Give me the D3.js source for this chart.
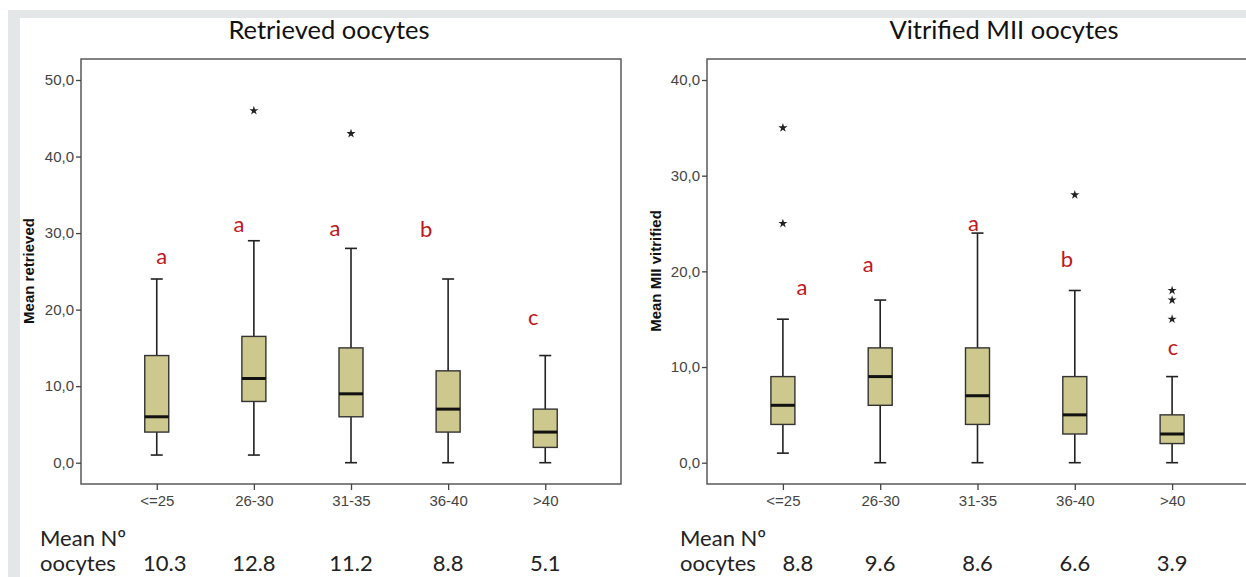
<!DOCTYPE html>
<html>
<head>
<meta charset="utf-8">
<script src="https://cdn.jsdelivr.net/npm/d3@7"></script>
<style>
  body { margin: 0; background: #fff; }
  svg { display: block; }
</style>
</head>
<body>
<div id="chart"></div>
<script>
// categories
let ageGroups = ["<=25", "26-30", "31-35", "36-40", ">40"];

// retrieved oocytes boxplot values
let retrievedLow = [1, 1, 0, 0, 0];
let retrievedQ1 = [4, 8, 6, 4, 2];
let retrievedMedian = [6, 11, 9, 7, 4];
let retrievedQ3 = [14, 16.5, 15, 12, 7];
let retrievedHigh = [24, 29, 28, 24, 14];
let retrievedOutliers = [[], [46], [43], [], []];
let retrievedLetters = ["a", "a", "a", "b", "c"];
let retrievedLetterAt = [26.8, 31, 30.5, 30.4, 18.9];
let retrievedMeans = ["10.3", "12.8", "11.2", "8.8", "5.1"];
let retrievedTicks = [0, 10, 20, 30, 40, 50];

// vitrified MII oocytes boxplot values
let vitrifiedLow = [1, 0, 0, 0, 0];
let vitrifiedQ1 = [4, 6, 4, 3, 2];
let vitrifiedMedian = [6, 9, 7, 5, 3];
let vitrifiedQ3 = [9, 12, 12, 9, 5];
let vitrifiedHigh = [15, 17, 24, 18, 9];
let vitrifiedOutliers = [[35, 25], [], [], [28], [18, 17, 15]];
let vitrifiedLetters = ["a", "a", "a", "b", "c"];
let vitrifiedLetterAt = [18.2, 20.6, 24.9, 21.1, 11.9];
let vitrifiedMeans = ["8.8", "9.6", "8.6", "6.6", "3.9"];
let vitrifiedTicks = [0, 10, 20, 30, 40];

let W = 1246, H = 577;

let svg = d3.select("#chart").append("svg")
    .attr("width", W)
    .attr("height", H);

// grey slide border
svg.append("rect").attr("x", 8).attr("y", 10).attr("width", W - 8).attr("height", 8).attr("fill", "#e4e7e8");
svg.append("rect").attr("x", 8).attr("y", 10).attr("width", 12).attr("height", H - 10).attr("fill", "#e4e7e8");

let fmt = v => d3.format(".1f")(v).replace(".", ",");

function drawPanel(p) {
    let x = d3.scalePoint()
        .domain(ageGroups)
        .range([p.left, p.right])
        .padding(0.78);
    let y = d3.scaleLinear()
        .domain([0, d3.max(p.ticks)])
        .range([462.7, 80]);

    let g = svg.append("g");
    let top = 59, bottom = 484;

    // frame
    g.append("rect")
        .attr("x", p.left).attr("y", top)
        .attr("width", p.right - p.left).attr("height", bottom - top)
        .attr("fill", "none").attr("stroke", "#5a5a5a").attr("stroke-width", 1.5);

    // y axis
    let yAxis = g.append("g")
        .attr("transform", "translate(" + p.left + ",0)")
        .call(d3.axisLeft(y).tickValues(p.ticks).tickFormat(fmt).tickSize(5).tickPadding(2));
    yAxis.select(".domain").remove();
    yAxis.selectAll("line").attr("stroke", "#444").attr("stroke-width", 1.3);
    yAxis.selectAll("text")
        .attr("fill", "#444")
        .style("font-family", "'Liberation Sans', Arial, sans-serif")
        .style("font-size", "15px");

    // x axis
    let xAxis = g.append("g")
        .attr("transform", "translate(0," + bottom + ")")
        .call(d3.axisBottom(x).tickSize(6).tickPadding(5));
    xAxis.select(".domain").remove();
    xAxis.selectAll("line").attr("stroke", "#444").attr("stroke-width", 1.3);
    xAxis.selectAll("text")
        .attr("fill", "#444")
        .style("font-family", "'Liberation Sans', Arial, sans-serif")
        .style("font-size", "15px");

    // y title
    g.append("text")
        .attr("transform", "translate(" + p.yTitleX + ",271) rotate(-90)")
        .attr("text-anchor", "middle")
        .attr("dy", "0.35em")
        .style("font-family", "'Liberation Sans', Arial, sans-serif")
        .style("font-weight", "bold")
        .style("font-size", "15px")
        .attr("fill", "#111")
        .text(p.yTitle);

    // chart title
    g.append("text")
        .attr("x", p.titleX).attr("y", 39)
        .attr("text-anchor", "middle")
        .style("font-family", "Lato, 'Open Sans', sans-serif")
        .style("font-size", "25.5px")
        .attr("fill", "#111")
        .text(p.title);

    let boxW = 24, capW = 12;
    let rows = ageGroups.map((c, i) => ({
        cat: c, low: p.low[i], q1: p.q1[i], med: p.median[i], q3: p.q3[i], high: p.high[i]
    }));

    // whiskers
    g.selectAll(".whisker")
        .data(rows).enter().append("line")
        .attr("x1", d => x(d.cat)).attr("x2", d => x(d.cat))
        .attr("y1", d => y(d.low)).attr("y2", d => y(d.high))
        .attr("stroke", "#222").attr("stroke-width", 1.6);
    ["low", "high"].forEach(k => {
        g.selectAll(".cap-" + k)
            .data(rows).enter().append("line")
            .attr("x1", d => x(d.cat) - capW / 2).attr("x2", d => x(d.cat) + capW / 2)
            .attr("y1", d => y(d[k])).attr("y2", d => y(d[k]))
            .attr("stroke", "#222").attr("stroke-width", 1.6);
    });

    // boxes
    g.selectAll(".box")
        .data(rows).enter().append("rect")
        .attr("x", d => x(d.cat) - boxW / 2)
        .attr("y", d => y(d.q3))
        .attr("width", boxW)
        .attr("height", d => y(d.q1) - y(d.q3))
        .attr("fill", "#cdc88d")
        .attr("stroke", "#333").attr("stroke-width", 1.4);

    // medians
    g.selectAll(".median")
        .data(rows).enter().append("line")
        .attr("x1", d => x(d.cat) - boxW / 2).attr("x2", d => x(d.cat) + boxW / 2)
        .attr("y1", d => y(d.med)).attr("y2", d => y(d.med))
        .attr("stroke", "#111").attr("stroke-width", 3);

    // extreme values
    let outs = [];
    p.outliers.forEach((arr, i) => arr.forEach(v => outs.push({cat: ageGroups[i], v: v})));
    g.selectAll(".outlier")
        .data(outs).enter().append("path")
        .attr("transform", d => "translate(" + x(d.cat) + "," + y(d.v) + ")")
        .attr("d", d3.symbol(d3.symbolStar, 26))
        .attr("fill", "#222");

    // significance letters
    g.selectAll(".letter")
        .data(p.letters).enter().append("text")
        .attr("x", (d, i) => x(ageGroups[i]) + p.letterDx[i])
        .attr("y", (d, i) => y(p.letterAt[i]))
        .attr("dy", "0.3em")
        .attr("text-anchor", "middle")
        .style("font-family", "Lato, 'Open Sans', sans-serif")
        .style("font-size", "22px")
        .attr("fill", "#c0161c")
        .text(d => d);

    // mean number of oocytes
    g.append("text")
        .attr("x", p.meanX).attr("y", 546)
        .style("font-family", "Lato, 'Open Sans', sans-serif")
        .style("font-size", "22px")
        .attr("fill", "#222")
        .text("Mean Nº");
    g.append("text")
        .attr("x", p.meanX).attr("y", 571)
        .style("font-family", "Lato, 'Open Sans', sans-serif")
        .style("font-size", "22px")
        .attr("fill", "#222")
        .text("oocytes");
    g.selectAll(".mean")
        .data(p.means).enter().append("text")
        .attr("x", (d, i) => x(ageGroups[i]) + (i === 0 ? p.firstMeanDx : 0))
        .attr("y", 571)
        .attr("text-anchor", "middle")
        .style("font-family", "Lato, 'Open Sans', sans-serif")
        .style("font-size", "22px")
        .attr("fill", "#222")
        .text(d => d);
}

drawPanel({
    left: 81, right: 621, ticks: retrievedTicks,
    low: retrievedLow, q1: retrievedQ1, median: retrievedMedian, q3: retrievedQ3, high: retrievedHigh,
    outliers: retrievedOutliers, letters: retrievedLetters, letterAt: retrievedLetterAt,
    letterDx: [5, -15, -16, -22, -12],
    means: retrievedMeans, meanX: 40, firstMeanDx: 8,
    title: "Retrieved oocytes", titleX: 329,
    yTitle: "Mean retrieved", yTitleX: 29
});

drawPanel({
    left: 707, right: 1248, ticks: vitrifiedTicks,
    low: vitrifiedLow, q1: vitrifiedQ1, median: vitrifiedMedian, q3: vitrifiedQ3, high: vitrifiedHigh,
    outliers: vitrifiedOutliers, letters: vitrifiedLetters, letterAt: vitrifiedLetterAt,
    letterDx: [19, -12, -4, -8, 1],
    means: vitrifiedMeans, meanX: 680, firstMeanDx: 15,
    title: "Vitrified MII oocytes", titleX: 1004,
    yTitle: "Mean MII vitrified", yTitleX: 656
});
</script>
</body>
</html>
